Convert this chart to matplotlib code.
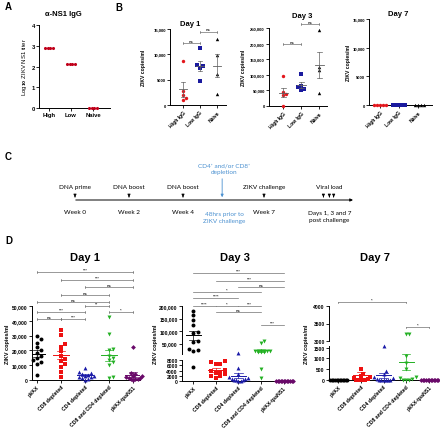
import numpy as np
import matplotlib.pyplot as plt

W, H = 440, 431
plt.rcParams['font.family'] = ['Liberation Sans', 'DejaVu Sans']
plt.rcParams['font.weight'] = 'bold'

# ---- data ----
a_groups = ['High', 'Low', 'Naive']
a_titer = [[2.9, 2.9, 2.9, 2.9], [2.1, 2.1, 2.1, 2.1], [0, 0, 0, 0]]

b_groups = ['High IgG', 'Low IgG', 'Naive']
b_day1 = [[8700, 2700, 1900, 1300, 900],
          [11200, 7800, 7600, 7400, 4700],
          [13000, 9800, 6100, 2200]]
b_day3 = [[95000, 45000, 40000, 35000, 1000],
          [102000, 65000, 60000, 55000, 52000],
          [245000, 125000, 115000, 42000]]
b_day7 = [[0, 0, 0, 0, 0], [0, 0, 0, 0, 0], [0, 0, 0, 0]]

d_groups = ['pVAX', 'CD8 depleted', 'CD4 depleted', 'CD8 and CD4 depleted', 'pVAX-tpaNS1']
d_day1 = [[30000, 27500, 25000, 22000, 20000, 18500, 16000, 15000, 13500, 12500, 11000, 3500],
          [33600, 30500, 24200, 22400, 19700, 16400, 14100, 13000, 10700, 8500, 5200, 2200],
          [8200, 5500, 4800, 4000, 3500, 3000, 2700, 2200, 1800, 1200, 700, 300],
          [42600, 30900, 20800, 20100, 16400, 14800, 13500, 11900, 10300, 1800, 1300],
          [22000, 5000, 4000, 3000, 2500, 2000, 1500, 1200, 1000, 800, 500, 300]]
d_day3 = [[182000, 165000, 145000, 125000, 95000, 92000, 60000, 55000, 30000, 25000, 20000, 5400],
          [7800, 7300, 6600, 6500, 4200, 3800, 3500, 3200, 2500, 2000, 1800, 1200],
          [11000, 5000, 2500, 1500, 1000, 800, 600, 400, 300, 200, 100, 50],
          [62000, 52000, 22000, 21000, 20000, 18000, 17000, 16000, 4500, 1000],
          [0, 0, 0, 0, 0, 0, 0, 0, 0, 0, 0, 0]]
d_day7 = [[0, 0, 0, 0, 0, 0, 0, 0, 0, 0, 0, 0],
          [1650, 500, 300, 200, 150, 100, 50, 0, 0, 0, 0, 0],
          [1550, 400, 300, 150, 100, 50, 0, 0, 0, 0, 0, 0],
          [3200, 3200, 1100, 800, 500, 150, 100, 50, 0, 0, 0],
          [0, 0, 0, 0, 0, 0, 0, 0, 0, 0, 0, 0]]

# significance brackets: (group i, group j, label, height)
b1_sig = [(0, 1, 'ns', 12200), (1, 2, 'ns', 14400)]
b3_sig = [(0, 1, 'ns', 198000), (1, 2, 'ns', 262000)]
d1_sig = [(0, 4, '***', 73000), (1, 4, '***', 67600), (2, 4, 'ns', 62800),
          (1, 3, 'ns', 57400), (0, 3, 'ns', 52700), (2, 3, '**', 50000),
          (0, 2, '***', 46000), (3, 4, '*', 46000), (0, 1, 'ns', 41200), (1, 2, '***', 41200)]
d3_sig = [(0, 4, '***', 332000), (1, 4, '***', 300000), (2, 4, 'ns', 276000),
          (0, 3, '*', 256000), (0, 2, '****', 232000), (0, 1, '****', 200000),
          (1, 2, '*', 200000), (2, 3, '***', 200000), (1, 3, 'ns', 176000), (3, 4, '***', 124000)]
d7_sig = [(0, 3, '*', 4106), (3, 4, '*', 3390)]

timeline_weeks = [0, 2, 4, 7]
timeline_top = ['DNA prime', 'DNA boost', 'DNA boost', 'ZIKV challenge']
timeline_bottom = ['Week 0', 'Week 2', 'Week 4', 'Week 7']
depletion_week = 5.45
viral_weeks = [9.2, 9.42, 9.58]

fig = plt.figure(figsize=(W / 100, H / 100), dpi=100)


def px_axes(x0, ytop, x1, ybot):
    return fig.add_axes([x0 / W, 1 - ybot / H, (x1 - x0) / W, (ybot - ytop) / H])


def style(ax, fs=3.6):
    for s in ['top', 'right']:
        ax.spines[s].set_visible(False)
    for s in ['left', 'bottom']:
        ax.spines[s].set_linewidth(0.7)
    ax.tick_params(length=2, width=0.6, pad=1, labelsize=fs)
    ax.patch.set_alpha(0)


def swarm(vals, to_px, d_px, half_px, ppu_x):
    ys = np.array([to_px(v) for v in vals])
    order = np.argsort(ys)
    placed = []
    offs = np.zeros(len(vals))
    for i in order:
        k = 0
        found = None
        while found is None:
            cands = [0.0] if k == 0 else [k * d_px, -k * d_px]
            for c in cands:
                if all((c - px) ** 2 + (ys[i] - py) ** 2 >= (0.9 * d_px) ** 2 for px, py in placed):
                    found = c
                    break
            k += 1
        placed.append((found, ys[i]))
        offs[i] = found
    m = np.abs(offs).max()
    if m > half_px:
        offs *= half_px / m
    return offs / ppu_x


def mean_sem(axes, x, vals, color, w, cw, lw=0.7):
    vals = np.asarray(vals, float)
    m = vals.mean()
    s = vals.std(ddof=1) / np.sqrt(len(vals))
    for ax in axes:
        ax.plot([x - w, x + w], [m, m], color=color, lw=lw, zorder=4)
        if s > 0:
            ax.plot([x, x], [m - s, m + s], color=color, lw=0.5, zorder=4)
            ax.plot([x - cw, x + cw], [m - s] * 2, color=color, lw=0.5, zorder=4)
            ax.plot([x - cw, x + cw], [m + s] * 2, color=color, lw=0.5, zorder=4)


def bracket(ax, sigs, cap, fs=3.0):
    for i, j, lab, h in sigs:
        ax.plot([i, j], [h, h], color='#707070', lw=0.5, clip_on=False)
        ax.plot([i, i], [h - cap, h + cap], color='#707070', lw=0.5, clip_on=False)
        ax.plot([j, j], [h - cap, h + cap], color='#707070', lw=0.5, clip_on=False)
        ax.text((i + j) / 2, h + cap * 0.6, lab, ha='center', va='bottom',
                fontsize=fs, color='#404040', clip_on=False)


# ---- panel A ----
axA = px_axes(39, 26, 110, 109)
style(axA, 4.2)
for i, vals in enumerate(a_titer):
    xs = i + (np.arange(len(vals)) - (len(vals) - 1) / 2) * 0.12
    axA.scatter(xs, vals, s=5, color='#c0001a', zorder=3, clip_on=False, linewidths=0)
    axA.plot([i - 0.22, i + 0.22], [np.mean(vals)] * 2, color='black', lw=0.5, zorder=2)
axA.set_xlim(-0.45, 2.77)
axA.set_ylim(0, 4)
axA.set_yticks([0, 1, 2, 3, 4])
axA.set_xticks(range(3))
axA.set_xticklabels(a_groups)
axA.set_ylabel('Log$_{10}$ ZIKV NS1 titer', fontsize=4.3, labelpad=2)
fig.text(63 / W, 1 - 15 / H, 'α-NS1 IgG', ha='center', va='center', fontsize=5.5)

# ---- panel B ----
b_colors = ['#e3161c', '#1a1a9e', 'black']
b_markers = ['o', 's', '^']
b_specs = [(b_day1, 'Day 1', (170, 30, 226, 106), 17, (-0.76, 2.53), 15000,
            [0, 5000, 10000, 15000], ['0', '5000', '10,000', '15,000'], b1_sig, (190, 25), 143),
           (b_day3, 'Day 3', (269, 29, 327, 107), 18, (-0.78, 2.44), 250000,
            list(range(0, 250001, 50000)), ['0', '50,000', '100,000', '150,000', '200,000', '250,000'],
            b3_sig, (302, 16), 243),
           (b_day7, 'Day 7', (369, 20, 432, 106), 19, (-0.58, 2.74), 15000,
            [0, 5000, 10000, 15000], ['0', '5000', '10,000', '15,000'], [], (398, 15), 348)]
for data, title, rect, ppu, xl, ymax, yt, ytl, sig, tpos, ylx in b_specs:
    ax = px_axes(*rect)
    style(ax, 3.0)
    hpx = rect[3] - rect[1]
    for i, vals in enumerate(data):
        offs = swarm(vals, lambda v: v / ymax * hpx, 3.4, 6, ppu)
        ax.scatter(i + offs, vals, s=6, marker=b_markers[i], color=b_colors[i],
                   linewidths=0, zorder=3, clip_on=False)
        mean_sem([ax], i, vals, '#606060', 0.25, 0.14, lw=0.6)
    ax.set_xlim(*xl)
    ax.set_ylim(0, ymax)
    ax.set_yticks(yt)
    ax.set_yticklabels(ytl)
    ax.set_xticks(range(3))
    ax.set_xticklabels(b_groups, rotation=45, ha='right', rotation_mode='anchor', fontsize=3.6)
    bracket(ax, sig, ymax * 0.012, 3.0)
    fig.text(tpos[0] / W, 1 - tpos[1] / H, title, ha='center', va='center', fontsize=5.5)
    fig.text(ylx / W, 1 - (rect[1] + rect[3]) / 2 / H, 'ZIKV copies/ml', rotation=90,
             ha='center', va='center', fontsize=3.6)

# ---- panel C (timeline) ----
axC = fig.add_axes([0, 0, 1, 1])
axC.set_xlim(0, W)
axC.set_ylim(H, 0)
axC.axis('off')
axC.set_zorder(-1)
wk = lambda w: 75 + 27.0 * w
tl_font = ['Lato', 'DejaVu Sans']
blue = '#4a90d0'
line_y = 201
axC.annotate('', xy=(wk(10.4), line_y), xytext=(wk(0) - 2, line_y),
             arrowprops=dict(arrowstyle='-|>', lw=0.7, color='black', mutation_scale=4))
for w, top, bot in zip(timeline_weeks, timeline_top, timeline_bottom):
    axC.annotate('', xy=(wk(w), line_y), xytext=(wk(w), line_y - 6),
                 arrowprops=dict(arrowstyle='-|>', lw=0.6, color='black', mutation_scale=4))
    axC.text(wk(w), 188, top, ha='center', va='center', fontsize=4.6, family=tl_font, weight='normal')
    axC.text(wk(w), 213, bot, ha='center', va='center', fontsize=4.6, family=tl_font, weight='normal')
for w in viral_weeks:
    axC.annotate('', xy=(wk(w), line_y), xytext=(wk(w), line_y - 6),
                 arrowprops=dict(arrowstyle='-|>', lw=0.6, color='black', mutation_scale=4))
axC.text(wk(viral_weeks[1]), 188, 'Viral load', ha='center', va='center', fontsize=4.6,
         family=tl_font, weight='normal')
axC.text(wk(viral_weeks[1]), 217, 'Days 1, 3 and 7\npost challenge', ha='center', va='center',
         fontsize=4.6, family=tl_font, weight='normal', linespacing=1.3)
axC.annotate('', xy=(wk(depletion_week), line_y), xytext=(wk(depletion_week), 177),
             arrowprops=dict(arrowstyle='-|>', lw=0.6, color=blue, mutation_scale=4))
axC.text(wk(depletion_week) + 2, 169, 'CD4⁺ and/or CD8⁺\ndepletion', ha='center', va='center',
         fontsize=4.6, family=tl_font, weight='normal', color=blue, linespacing=1.3)
axC.text(wk(depletion_week) + 2, 218, '48hrs prior to\nZIKV challenge', ha='center', va='center',
         fontsize=4.6, family=tl_font, weight='normal', color=blue, linespacing=1.3)

# ---- panel D ----
d_colors = ['black', '#ee1111', '#1a1aa8', '#22b022', '#6a0a6a']
d_markers = ['o', 's', '^', 'v', 'D']


def draw_d(ax_list, segs, data, ppu, to_px):
    for i, vals in enumerate(data):
        vals = np.asarray(vals, float)
        offs = swarm(vals, to_px, 4.4, 9, ppu)
        for ax, (lo, hi) in zip(ax_list, segs):
            sel = (vals >= lo) & (vals <= hi)
            ax.scatter(i + offs[sel], vals[sel], s=8 if d_markers[i] != 'D' else 6,
                       marker=d_markers[i], color=d_colors[i], linewidths=0, zorder=3, clip_on=False)
        mean_sem(ax_list, i, vals, d_colors[i], 0.33, 0.18, lw=0.7)


def d_xaxis(ax, xl):
    ax.set_xlim(*xl)
    ax.set_xticks(range(5))
    ax.set_xticklabels(d_groups, rotation=45, ha='right', rotation_mode='anchor', fontsize=3.7)


# Day 1
ax1 = px_axes(32, 307, 140, 381)
style(ax1, 3.6)
draw_d([ax1], [(0, 1e9)], d_day1, 24, lambda v: v / 50000 * 74)
ax1.set_ylim(0, 50000)
ax1.set_yticks(range(0, 50001, 10000))
ax1.set_yticklabels(['0', '10,000', '20,000', '30,000', '40,000', '50,000'])
d_xaxis(ax1, (-0.21, 4.29))
bracket(ax1, d1_sig, 500, 3.0)
fig.text(85 / W, 1 - 258 / H, 'Day 1', ha='center', va='center', fontsize=8)
fig.text(8 / W, 1 - 344 / H, 'ZIKV copies/ml', rotation=90, ha='center', va='center', fontsize=4)

# Day 3 (broken axis)
d3_top = (8000, 200000)
d3_bot = (0, 8000)
ax3t = px_axes(182, 307, 290, 355)
ax3b = px_axes(182, 361, 290, 382)
style(ax3t, 3.6)
style(ax3b, 3.6)
ax3t.spines['bottom'].set_visible(False)
ax3t.set_xticks([])
ax3t.set_ylim(*d3_top)
ax3b.set_ylim(*d3_bot)
ax3t.set_yticks(range(50000, 200001, 50000))
ax3t.set_yticklabels(['50,000', '100,000', '150,000', '200,000'])
ax3b.set_yticks(range(0, 8001, 2000))
to_px3 = lambda v: v / 8000 * 21 if v <= 8000 else 27 + (v - 8000) / 192000 * 48
draw_d([ax3t, ax3b], [d3_top, d3_bot], d_day3, 22.3, to_px3)
ax3t.set_xlim(-0.49, 4.27)
d_xaxis(ax3b, (-0.49, 4.27))
bracket(ax3t, d3_sig, 1500, 3.0)
fig.text(235 / W, 1 - 258 / H, 'Day 3', ha='center', va='center', fontsize=8)
fig.text(155 / W, 1 - 344 / H, 'ZIKV copies/ml', rotation=90, ha='center', va='center', fontsize=4)

# Day 7 (broken axis)
d7_top = (3000, 4000)
d7_bot = (0, 1570)
ax7t = px_axes(329, 307, 432, 342)
ax7b = px_axes(329, 347, 432, 381)
style(ax7t, 3.6)
style(ax7b, 3.6)
ax7t.spines['bottom'].set_visible(False)
ax7t.set_xticks([])
ax7t.set_ylim(*d7_top)
ax7b.set_ylim(*d7_bot)
ax7t.set_yticks([3000, 3500, 4000])
ax7b.set_yticks([0, 500, 1000, 1500])
to_px7 = lambda v: v / 1570 * 34 if v <= 1570 else 39 + (v - 3000) / 1000 * 35
draw_d([ax7t, ax7b], [d7_top, d7_bot], d_day7, 22.25, to_px7)
ax7t.set_xlim(-0.40, 4.13)
d_xaxis(ax7b, (-0.40, 4.13))
bracket(ax7t, d7_sig, 12, 3.0)
fig.text(375 / W, 1 - 258 / H, 'Day 7', ha='center', va='center', fontsize=8)
fig.text(306 / W, 1 - 344 / H, 'ZIKV copies/ml', rotation=90, ha='center', va='center', fontsize=4)

# panel letters
for lab, x, y in [('A', 5, 7), ('B', 115, 8), ('C', 5, 157), ('D', 5, 241)]:
    fig.text(x / W, 1 - y / H, lab, ha='left', va='center', fontsize=7)

fig.savefig('out.png', dpi=100)
